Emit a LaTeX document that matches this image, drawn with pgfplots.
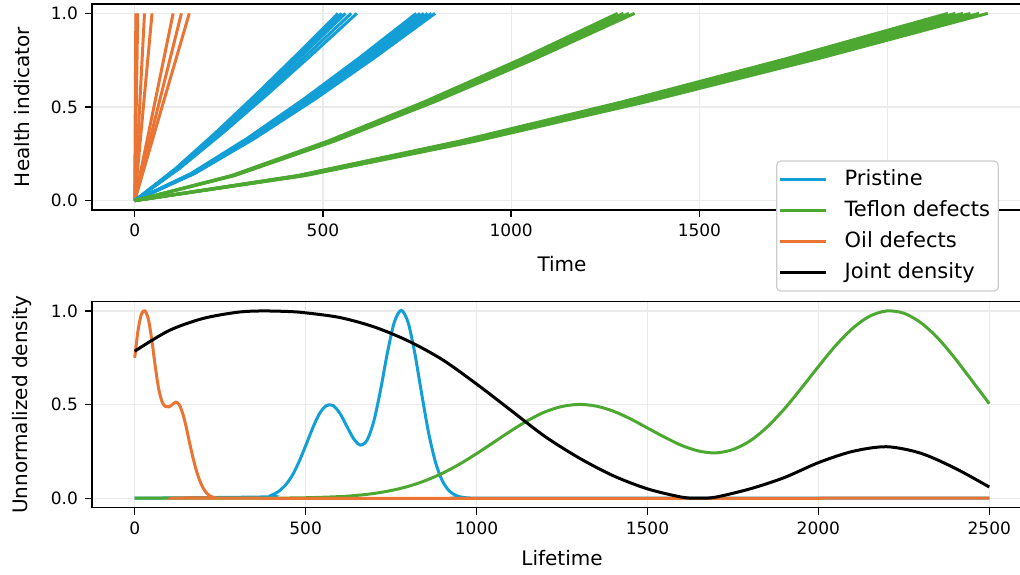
\documentclass[border=0pt]{standalone}
\usepackage{pgfplots}
\pgfplotsset{compat=1.18}
\usepackage{fontspec}
\setmainfont{DejaVu Sans}
\definecolor{cblue}{HTML}{139FD6}
\definecolor{cgreen}{HTML}{4DA832}
\definecolor{corange}{HTML}{EA7433}
\definecolor{gridc}{HTML}{EBEBEB}
\pgfplotsset{
 myax/.style={
  scale only axis, width=470pt, height=103pt,
  axis line style={line width=0.7pt, black},
  tick align=outside, tick pos=left,
  major tick length=3.5pt,
  every tick/.style={black, line width=0.7pt},
  grid=major, grid style={gridc, line width=0.6pt},
  ymin=-0.05, ymax=1.05, ytick={0,0.5,1},
  /pgf/number format/assume math mode=true,
  xticklabel style={/pgf/number format/1000 sep={}},
  yticklabel style={/pgf/number format/.cd, fixed, fixed zerofill, precision=1},
  tick label style={font=\fontsize{8.5}{10}\selectfont},
  label style={font=\fontsize{10.3}{12}\selectfont, inner sep=0pt},
  every axis y label/.style={at={(axis description cs:-0.0745,0.5)}, rotate=90, anchor=center, inner sep=0pt},
 },
 lw/.style={line width=1.5pt},
 lg/.style={legend image code/.code={\draw[##1, line width=1.5pt] (0pt,0pt) -- (23pt,0pt);}},
}
\begin{document}
\begin{tikzpicture}
\begin{axis}[myax, name=top,
  xmin=-113.5, xmax=2383.5, xtick={0,500,1000,1500,2000},
  xlabel={Time}, ylabel={Health indicator},
  every axis x label/.style={at={(axis description cs:0.5,-0.262)}, anchor=center, inner sep=0pt}]
% Oil defects
\addplot[corange, lw] coordinates {(0,0) (3,1)};
\addplot[corange, lw] coordinates {(0,0) (8,1)};
\addplot[corange, lw] coordinates {(0,0) (26,1)};
\addplot[corange, lw] coordinates {(0,0) (46,1)};
\addplot[corange, lw] coordinates {(0,0) (102,1)};
\addplot[corange, lw] coordinates {(0,0) (124,1)};
\addplot[corange, lw] coordinates {(0,0) (145,1)};
% Pristine group 1
\addplot[cblue, lw] coordinates {(0,0) (108,0.1703) (216,0.3650) (324,0.5701) (432,0.7824) (540,1)};
\addplot[cblue, lw] coordinates {(0,0) (110,0.1703) (220,0.3650) (330,0.5701) (440,0.7824) (550,1)};
\addplot[cblue, lw] coordinates {(0,0) (112,0.1703) (224,0.3650) (336,0.5701) (448,0.7824) (560,1)};
\addplot[cblue, lw] coordinates {(0,0) (115,0.1703) (230,0.3650) (345,0.5701) (460,0.7824) (575,1)};
\addplot[cblue, lw] coordinates {(0,0) (118,0.1703) (236,0.3650) (354,0.5701) (472,0.7824) (590,1)};
% Pristine group 2
\addplot[cblue, lw] coordinates {(0,0) (149.6,0.1450) (299.2,0.3330) (448.8,0.5417) (598.4,0.7651) (748,1)};
\addplot[cblue, lw] coordinates {(0,0) (151.6,0.1450) (303.2,0.3330) (454.8,0.5417) (606.4,0.7651) (758,1)};
\addplot[cblue, lw] coordinates {(0,0) (153.6,0.1450) (307.2,0.3330) (460.8,0.5417) (614.4,0.7651) (768,1)};
\addplot[cblue, lw] coordinates {(0,0) (155.6,0.1450) (311.2,0.3330) (466.8,0.5417) (622.4,0.7651) (778,1)};
\addplot[cblue, lw] coordinates {(0,0) (157.6,0.1450) (315.2,0.3330) (472.8,0.5417) (630.4,0.7651) (788,1)};
\addplot[cblue, lw] coordinates {(0,0) (159.6,0.1450) (319.2,0.3330) (478.8,0.5417) (638.4,0.7651) (798,1)};
% Teflon group 1
\addplot[cgreen, lw] coordinates {(0,0) (256.6,0.1337) (513.2,0.3181) (769.8,0.5281) (1026.4,0.7566) (1283,1)};
\addplot[cgreen, lw] coordinates {(0,0) (259.6,0.1337) (519.2,0.3181) (778.8,0.5281) (1038.4,0.7566) (1298,1)};
\addplot[cgreen, lw] coordinates {(0,0) (262.6,0.1337) (525.2,0.3181) (787.8,0.5281) (1050.4,0.7566) (1313,1)};
\addplot[cgreen, lw] coordinates {(0,0) (265.6,0.1337) (531.2,0.3181) (796.8,0.5281) (1062.4,0.7566) (1328,1)};
% Teflon group 2
\addplot[cgreen, lw] coordinates {(0,0) (432,0.1337) (864,0.3181) (1296,0.5281) (1728,0.7566) (2160,1)};
\addplot[cgreen, lw] coordinates {(0,0) (436,0.1337) (872,0.3181) (1308,0.5281) (1744,0.7566) (2180,1)};
\addplot[cgreen, lw] coordinates {(0,0) (440,0.1337) (880,0.3181) (1320,0.5281) (1760,0.7566) (2200,1)};
\addplot[cgreen, lw] coordinates {(0,0) (444,0.1337) (888,0.3181) (1332,0.5281) (1776,0.7566) (2220,1)};
\addplot[cgreen, lw] coordinates {(0,0) (448.6,0.1337) (897.2,0.3181) (1345.8,0.5281) (1794.4,0.7566) (2243,1)};
\addplot[cgreen, lw] coordinates {(0,0) (453.2,0.1337) (906.4,0.3181) (1359.6,0.5281) (1812.8,0.7566) (2266,1)};
\end{axis}
\begin{axis}[myax, name=bot, at={(top.south west)}, anchor=north west, yshift=-45.8pt,
  xmin=-125, xmax=2625, xtick={0,500,1000,1500,2000,2500},
  xlabel={Lifetime}, ylabel={Unnormalized density},
  every axis x label/.style={at={(axis description cs:0.5,-0.246)}, anchor=center, inner sep=0pt},
  legend cell align=left,
  legend style={at={(axis description cs:0.7277,1.685)}, anchor=north west,
    draw=black!20, rounded corners=2pt, fill=white, line width=0.6pt,
    font=\fontsize{10.5}{12}\selectfont, inner xsep=1pt, inner ysep=1.5pt,
    nodes={inner sep=3pt, text height=7.5pt, text depth=2pt},
    /tikz/every odd column/.append style={column sep=5.5pt}}]
\addplot[cblue, lw, smooth, lg] coordinates {(0,0) (380,0.007) (400,0.016) (420,0.035) (440,0.068) (460,0.119) (480,0.192) (500,0.280) (520,0.372) (540,0.450) (560,0.494) (580,0.495) (600,0.454) (620,0.386) (640,0.319) (660,0.284) (680,0.311) (700,0.415) (720,0.586) (740,0.784) (760,0.943) (780,1.003) (800,0.937) (820,0.768) (840,0.5515) (860,0.3472) (880,0.1915) (900,0.0926) (920,0.0392) (940,0.0145) (960,0.0047) (980,0.0013) (1000,0.0003) (1020,0) (2500,0)};
\addlegendentry{Pristine}
\addplot[cgreen, lw, smooth, lg] coordinates {(0,0) (200,0) (400,0.0006) (500,0.0025) (600,0.0087) (650,0.0152) (700,0.0255) (750,0.0411) (800,0.0633) (850,0.0938) (900,0.1333) (950,0.1817) (1000,0.238) (1050,0.2983) (1100,0.359) (1150,0.415) (1200,0.461) (1250,0.490) (1300,0.501) (1350,0.492) (1400,0.465) (1450,0.424) (1500,0.375) (1550,0.326) (1600,0.282) (1650,0.252) (1700,0.242) (1750,0.260) (1800,0.306) (1850,0.380) (1900,0.476) (1950,0.587) (2000,0.703) (2050,0.814) (2100,0.907) (2150,0.972) (2200,1.000) (2250,0.988) (2300,0.937) (2350,0.854) (2400,0.746) (2450,0.626) (2500,0.505)};
\addlegendentry{Teflon defects}
\addplot[corange, lw, smooth, lg] coordinates {(0,0.75) (10,0.90) (20,0.985) (30,1.0) (40,0.955) (50,0.845) (60,0.705) (70,0.585) (80,0.515) (90,0.49) (100,0.488) (110,0.50) (120,0.513) (130,0.50) (140,0.455) (150,0.385) (160,0.30) (170,0.22) (180,0.15) (190,0.095) (200,0.055) (210,0.028) (220,0.012) (235,0.003) (250,0) (2500,0)};
\addlegendentry{Oil defects}
\addplot[black, lw, smooth, lg] coordinates {(0,0.785) (100,0.895) (200,0.96) (300,0.993) (370,1.0) (450,0.997) (500,0.99) (600,0.965) (700,0.915) (800,0.84) (900,0.74) (1000,0.61) (1100,0.47) (1200,0.33) (1300,0.215) (1400,0.12) (1500,0.05) (1600,0.006) (1650,0.0) (1700,0.006) (1800,0.05) (1900,0.11) (2000,0.19) (2100,0.25) (2200,0.275) (2300,0.24) (2400,0.16) (2500,0.06)};
\addlegendentry{Joint density}
\end{axis}
\coordinate (cropTR) at ([xshift=464pt, yshift=2pt]top.north west);
\coordinate (cropBL) at ([xshift=-46pt, yshift=-33.7pt]bot.south west);
\pgfresetboundingbox
\useasboundingbox (cropBL) rectangle (cropTR);
\end{tikzpicture}
\end{document}
